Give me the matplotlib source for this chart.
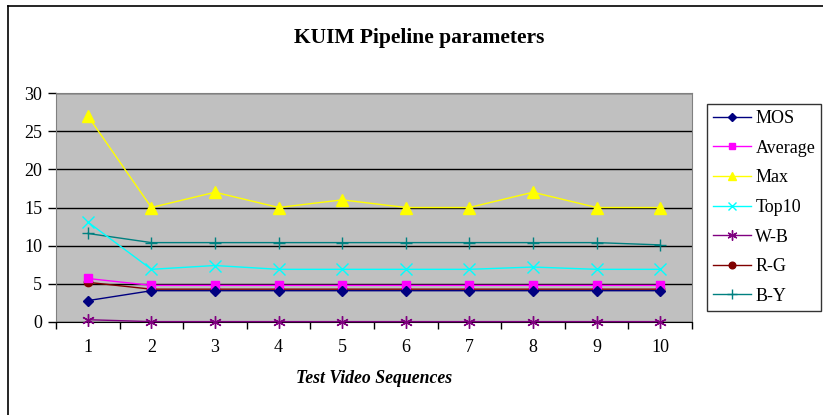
import matplotlib.pyplot as plt
from matplotlib.lines import Line2D

# data
sequences = [1, 2, 3, 4, 5, 6, 7, 8, 9, 10]
mos = [2.8, 4.1, 4.1, 4.1, 4.1, 4.1, 4.1, 4.1, 4.1, 4.1]
average = [5.7, 4.8, 4.8, 4.8, 4.8, 4.8, 4.8, 4.8, 4.8, 4.8]
max_vals = [27, 15, 17, 15, 16, 15, 15, 17, 15, 15]
top10 = [13.1, 6.9, 7.4, 6.9, 6.9, 6.9, 6.9, 7.2, 6.9, 6.9]
w_b = [0.3, 0.05, 0.05, 0.05, 0.05, 0.05, 0.05, 0.05, 0.05, 0.05]
r_g = [5.2, 4.3, 4.3, 4.3, 4.3, 4.3, 4.3, 4.3, 4.3, 4.3]
b_y = [11.6, 10.4, 10.4, 10.4, 10.4, 10.4, 10.4, 10.4, 10.4, 10.1]
y_ticks = [0, 5, 10, 15, 20, 25, 30]

plt.rcParams['font.family'] = ['Liberation Serif', 'DejaVu Serif']

W, H = 823, 415
fig = plt.figure(figsize=(W / 100, H / 100), dpi=100)

# plot area in pixel coords: x 56..692, y 93..322
ax = fig.add_axes([56 / W, 1 - 322 / H, 636 / W, 229 / H])
ax.set_facecolor('#C0C0C0')

series = [
    ('MOS', mos, '#000080', 'D', 5.5),
    ('Average', average, '#FF00FF', 's', 6),
    ('Max', max_vals, '#FFFF00', '^', 8),
    ('Top10', top10, '#00FFFF', 'x', 8),
    ('W-B', w_b, '#800080', (6, 2, 0), 9),
    ('R-G', r_g, '#800000', 'o', 6),
    ('B-Y', b_y, '#008080', '+', 9),
]

handles = []
for label, vals, color, marker, ms in series[::-1]:
    ax.plot(sequences, vals, color=color, lw=1, marker=marker, markersize=ms,
            markerfacecolor=color, markeredgecolor=color, markeredgewidth=1,
            clip_on=False, zorder=3)
for label, vals, color, marker, ms in series:
    handles.append(Line2D([0], [0], color=color, lw=1, marker=marker,
                          markersize=ms * 0.8, markerfacecolor=color,
                          markeredgecolor=color, label=label))

# axes and grid
ax.set_xlim(0.5, 10.5)
ax.set_ylim(0, 30)
ax.set_yticks(y_ticks)
ax.yaxis.grid(True, color='black', lw=1)
ax.set_axisbelow(True)
ax.set_xticks(sequences)
ax.set_xticks([i + 0.5 for i in range(0, 11)], minor=True)
ax.tick_params(axis='x', which='major', length=0, pad=12, labelsize=13)
ax.tick_params(axis='x', which='minor', length=5, width=1, direction='out', color='black')
ax.tick_params(axis='y', length=6, width=1, direction='out', color='black', labelsize=13, pad=4)
for name in ['top', 'right']:
    ax.spines[name].set_color('#808080')
ax.spines['left'].set_color('#808080')
ax.spines['bottom'].set_color('black')

ax.set_xlabel('Test Video Sequences', fontsize=12.8, fontweight='bold', fontstyle='italic', labelpad=10)

fig.text(419 / W, 1 - 38 / H, 'KUIM Pipeline parameters', fontsize=15.5,
         fontweight='bold', ha='center', va='center')

leg = fig.legend(handles=handles, loc='upper left', bbox_to_anchor=(707 / W, 1 - 104 / H),
                 bbox_transform=fig.transFigure, fontsize=13, frameon=True,
                 fancybox=False, edgecolor='black', borderaxespad=0,
                 labelspacing=0.7, handlelength=2.1, handletextpad=0.25,
                 borderpad=0.33)
leg.get_frame().set_linewidth(1)

# outer chart border (only top and left visible in the reference)
fig.add_artist(Line2D([8 / W, 1], [1 - 6 / H, 1 - 6 / H], color='black', lw=1.2,
                      transform=fig.transFigure))
fig.add_artist(Line2D([8 / W, 8 / W], [0, 1 - 6 / H], color='black', lw=1.2,
                      transform=fig.transFigure))

fig.savefig('out.png', dpi=100)
